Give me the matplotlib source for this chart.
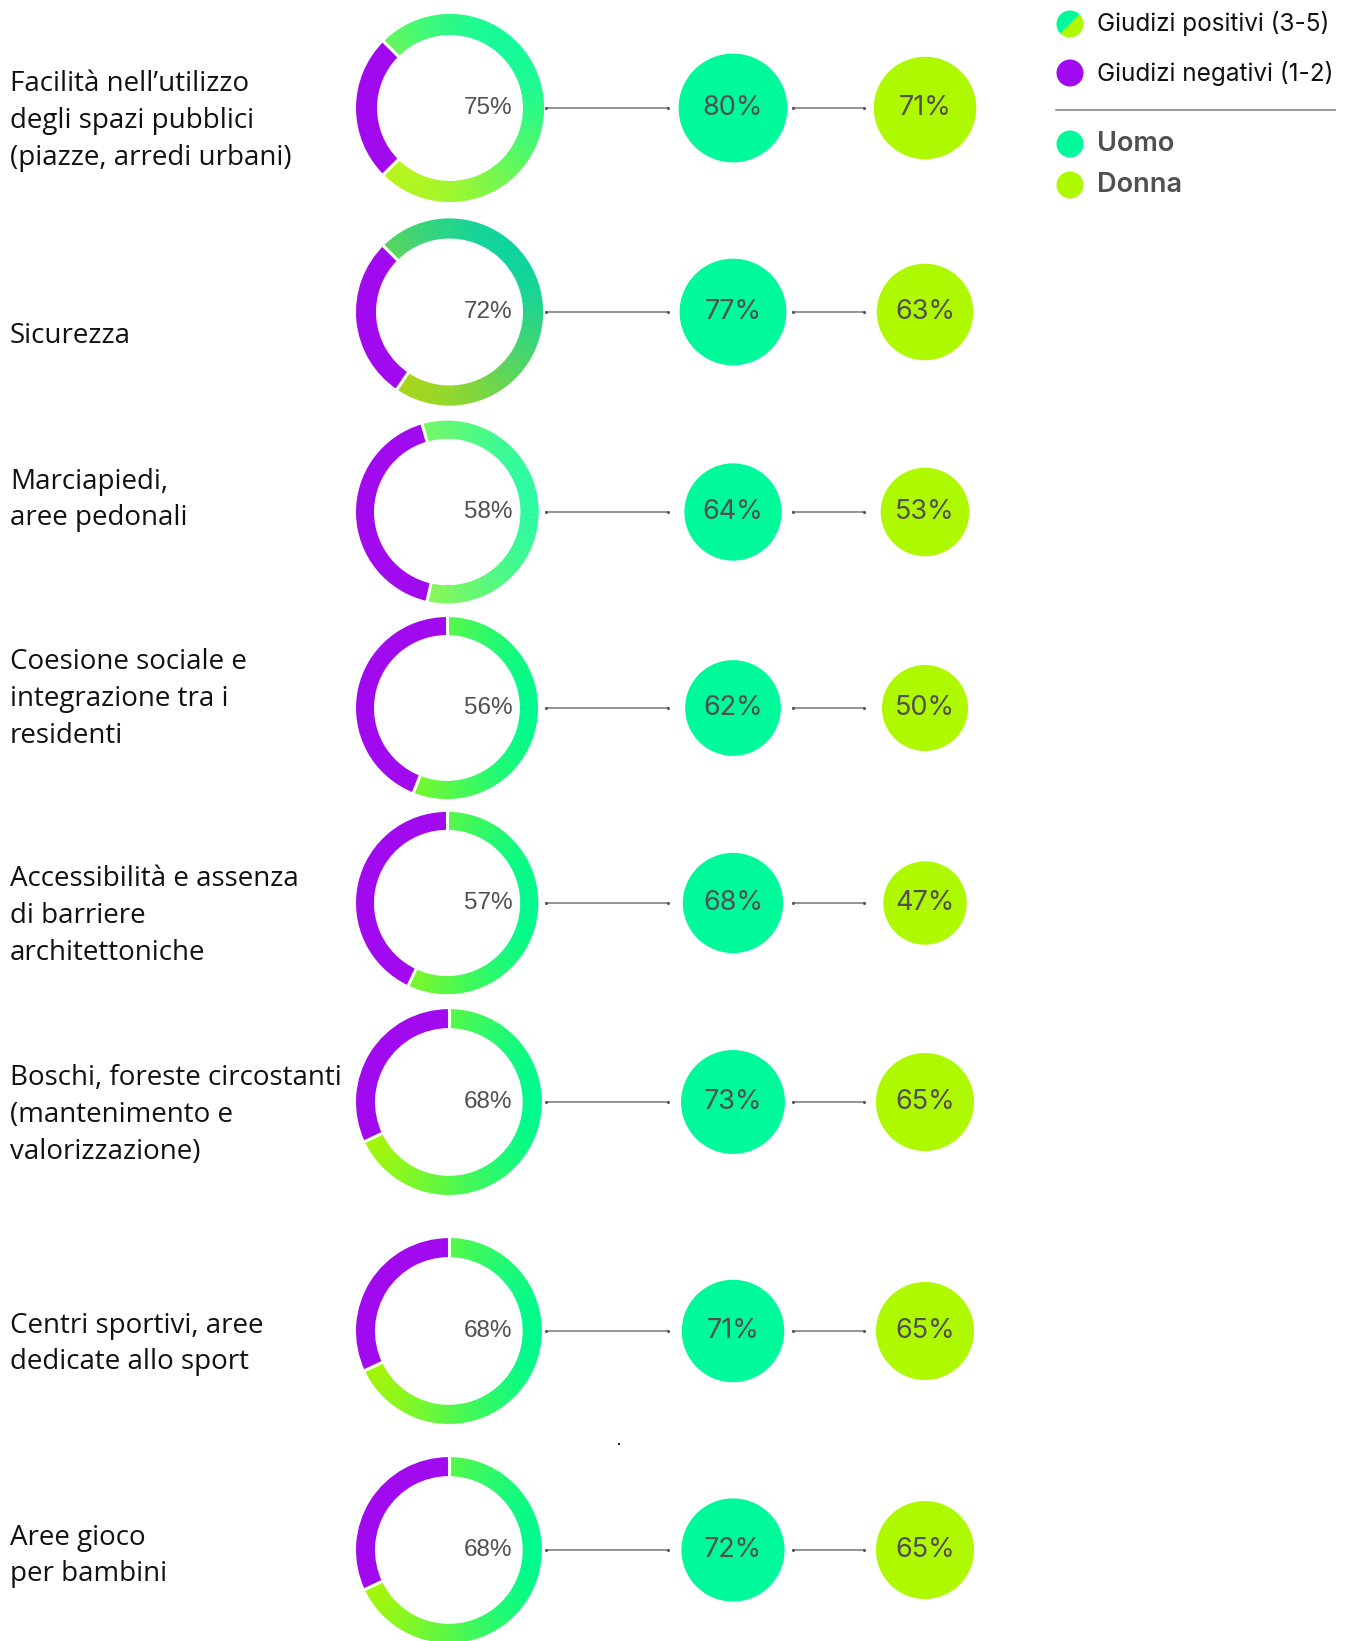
import numpy as np
import matplotlib.pyplot as plt
from matplotlib.patches import Wedge, Circle
from matplotlib.colors import to_rgb

# --- data -------------------------------------------------------------
labels = [
    "Facilità nell’utilizzo\ndegli spazi pubblici\n(piazze, arredi urbani)",
    "Sicurezza",
    "Marciapiedi,\naree pedonali",
    "Coesione sociale e\nintegrazione tra i\nresidenti",
    "Accessibilità e assenza\ndi barriere\narchitettoniche",
    "Boschi, foreste circostanti\n(mantenimento e\nvalorizzazione)",
    "Centri sportivi, aree\ndedicate allo sport",
    "Aree gioco\nper bambini",
]
positivi = [75, 72, 58, 56, 57, 68, 68, 68]
uomo = [80, 77, 64, 62, 68, 73, 71, 72]
donna = [71, 63, 53, 50, 47, 65, 65, 65]

# --- layout (pixels) --------------------------------------------------
W, H = 1349, 1641
row_y = [108, 312, 512, 708, 903, 1102, 1331, 1550]
label_y = [121, 336, 500, 699, 916, 1115, 1344, 1556]
# angle where the negative arc begins, and gradient angle / colours per ring
neg_start = [135, 135, 106, 90, 90, 90, 90, 90]
grad_dir = [45, 45, 10, 0, 0, 0, 0, 0]
grad_cols = [("#b6f51c", "#14fa98"), ("#a8d61a", "#0ed49c"),
             ("#b2f535", "#2cfaa0")] + [("#aef500", "#00fa8c")] * 5
ring_w = [21, 20, 18, 18, 18, 19, 19, 19]

PURPLE = "#a10aef"
GREEN = "#00f99a"
LIME = "#aef900"
GREY = "#505050"

fig = plt.figure(figsize=(W / 100, H / 100), dpi=100)
ax = fig.add_axes([0, 0, 1, 1])
ax.set_xlim(0, W)
ax.set_ylim(0, H)
ax.set_aspect("equal")
ax.axis("off")


def Y(y):
    return H - y


def donut(cx, cy, r, w, pos, start, gdir, cols):
    neg = 100 - pos
    a0, a1 = start, start + neg * 3.6
    ax.add_patch(Wedge((cx, cy), r, a0, a1, width=w, color=PURPLE, lw=0))
    c0, c1 = np.array(to_rgb(cols[0])), np.array(to_rgb(cols[1]))
    d = np.array([np.cos(np.radians(gdir)), np.sin(np.radians(gdir))])
    angs = np.linspace(a1, start + 360, 240)
    for s, e in zip(angs[:-1], angs[1:]):
        m = np.radians((s + e) / 2)
        t = (np.dot([np.cos(m), np.sin(m)], d) + 1) / 2
        col = c0 + (c1 - c0) * t
        ax.add_patch(Wedge((cx, cy), r, s, e + 0.4, width=w, color=col, lw=0))
    # thin white gaps between the two arcs
    for a in (a0, a1):
        ra = np.radians(a)
        ax.plot([cx + (r - w - 1) * np.cos(ra), cx + (r + 1) * np.cos(ra)],
                [cy + (r - w - 1) * np.sin(ra), cy + (r + 1) * np.sin(ra)],
                color="white", lw=2.2, solid_capstyle="butt")


def connector(x0, x1, y):
    ax.plot([x0, x1], [y, y], color="#777777", lw=1.1)
    ax.plot([x0, x1], [y, y], "o", color="#555555", ms=2.2, mew=0)


for i in range(len(labels)):
    y = Y(row_y[i])
    r = 82 + 0.16 * positivi[i]
    cx = 356 + r
    donut(cx, y, r, ring_w[i], positivi[i], neg_start[i], grad_dir[i],
          grad_cols[i])
    ax.text(488, y, f"{positivi[i]}%", ha="center", va="center",
            fontsize=17.5, color=GREY, family="Liberation Sans")

    connector(546, 668, y)
    connector(793, 864, y)

    ru = 6.08 * np.sqrt(uomo[i])
    rd = 6.08 * np.sqrt(donna[i])
    ax.add_patch(Circle((733, y), ru, color=GREEN, lw=0))
    ax.add_patch(Circle((925, y), rd, color=LIME, lw=0))
    ax.text(733, y, f"{uomo[i]}%", ha="center", va="center",
            fontsize=19.5, color=GREY, family="Inter")
    ax.text(925, y, f"{donna[i]}%", ha="center", va="center",
            fontsize=19.5, color=GREY, family="Inter")

    ax.text(10, Y(label_y[i]), labels[i], ha="left", va="center",
            fontsize=20, color="#111111", family="Open Sans",
            linespacing=1.42)

# stray dot
ax.plot([619], [Y(1444)], "s", color="#222222", ms=2, mew=0)

# legend
lx = 1070
ax.add_patch(Wedge((lx, Y(24)), 13.5, 45, 225, color=GREEN, lw=0))
ax.add_patch(Wedge((lx, Y(24)), 13.5, 225, 405, color=LIME, lw=0))
ax.add_patch(Circle((lx, Y(73)), 13.5, color=PURPLE, lw=0))
ax.add_patch(Circle((lx, Y(144)), 13.5, color=GREEN, lw=0))
ax.add_patch(Circle((lx, Y(185)), 13.5, color=LIME, lw=0))
ax.text(1097, Y(24), "Giudizi positivi (3-5)", ha="left", va="center",
        fontsize=17.5, color="#111111", family="Inter")
ax.text(1097, Y(73), "Giudizi negativi (1-2)", ha="left", va="center",
        fontsize=17.5, color="#111111", family="Inter")
ax.plot([1056, 1335], [Y(110), Y(110)], color="#888888", lw=1.2)
ax.text(1097, Y(144), "Uomo", ha="left", va="center",
        fontsize=19.5, color=GREY, family="Inter", fontweight="semibold")
ax.text(1097, Y(185), "Donna", ha="left", va="center",
        fontsize=19.5, color=GREY, family="Inter", fontweight="semibold")

fig.savefig("out.png", dpi=100, facecolor="white")
